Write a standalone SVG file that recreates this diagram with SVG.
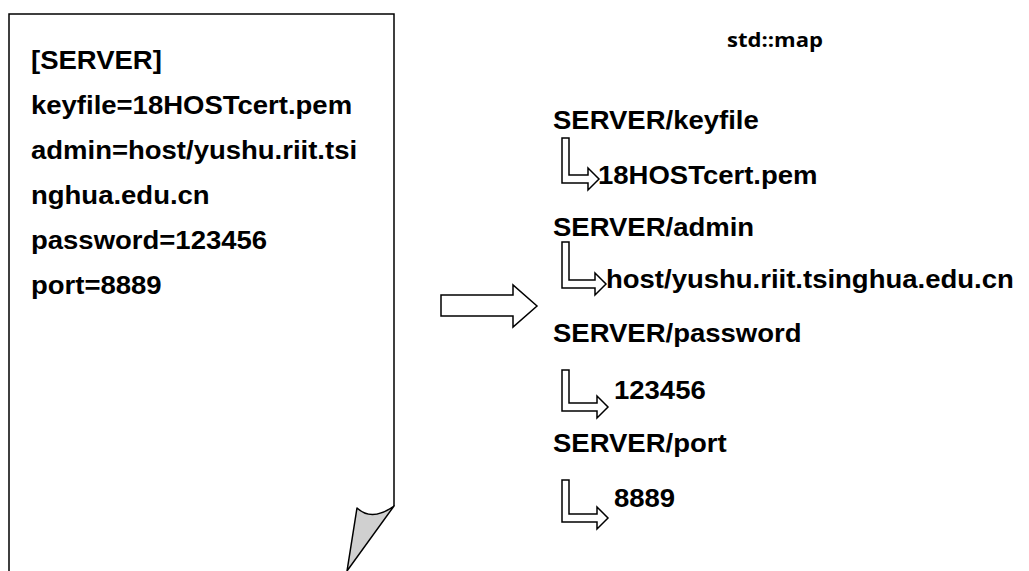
<svg xmlns="http://www.w3.org/2000/svg" width="1029" height="571" viewBox="0 0 1029 571">
  <style>
    .t { font-family: "Liberation Sans", Arial, sans-serif; font-weight: bold; font-size: 25px; fill: #000; }
    .cap { font-family: "Open Sans", "Liberation Sans", sans-serif; font-weight: bold; font-size: 20px; fill: #000; }
    .ln { fill: none; stroke: #000; stroke-width: 1.5; }
    .arr { fill: #fff; stroke: #000; stroke-width: 1.5; stroke-linejoin: miter; }
  </style>

  <!-- config file page with curled corner -->
  <g id="config-file">
    <path class="ln" d="M9,571 L9,14 L394,14 L394,506"/>
    <path d="M357,508 Q372,522 394,506 L347,571 Z" fill="#d0d0d0" stroke="#000" stroke-width="1.5" stroke-linejoin="round"/>
    <text class="t" transform="translate(31,69) scale(1.1,1)">[SERVER]</text>
    <text class="t" transform="translate(31,114) scale(1.1,1)">keyfile=18HOSTcert.pem</text>
    <text class="t" transform="translate(31,159) scale(1.1,1)">admin=host/yushu.riit.tsi</text>
    <text class="t" transform="translate(31,204) scale(1.1,1)">nghua.edu.cn</text>
    <text class="t" transform="translate(31,249) scale(1.1,1)">password=123456</text>
    <text class="t" transform="translate(31,294) scale(1.1,1)">port=8889</text>
  </g>

  <!-- conversion arrow and bent key-to-value arrows -->
  <g id="connectors">
    <path class="arr" d="M441,295 L513,295 L513,285 L537,306 L513,327 L513,316 L441,316 Z"/>
    <path class="arr" d="M562,138 L569,138 L569,175 L588,175 L588,168 L599,179 L588,190 L588,183 L562,183 Z"/>
    <path class="arr" d="M562,242 L569,242 L569,280 L595,280 L595,273 L606,284 L595,295 L595,288 L562,288 Z"/>
    <path class="arr" d="M562,370 L569,370 L569,403 L597,403 L597,396 L608,407 L597,418 L597,411 L562,411 Z"/>
    <path class="arr" d="M562,480 L569,480 L569,514 L597,514 L597,507 L608,518 L597,529 L597,522 L562,522 Z"/>
  </g>

  <!-- std::map entries -->
  <g id="map">
    <text class="cap" x="727" y="47" textLength="96" lengthAdjust="spacingAndGlyphs">std::map</text>
  </g>
  <g id="entry-keyfile">
    <text class="t" transform="translate(553,129) scale(1.1,1)">SERVER/keyfile</text>
    <text class="t" transform="translate(598,184) scale(1.1,1)">18HOSTcert.pem</text>
  </g>
  <g id="entry-admin">
    <text class="t" transform="translate(553,236) scale(1.1,1)">SERVER/admin</text>
    <text class="t" transform="translate(606,288) scale(1.1,1)">host/yushu.riit.tsinghua.edu.cn</text>
  </g>
  <g id="entry-password">
    <text class="t" transform="translate(553,342) scale(1.1,1)">SERVER/password</text>
    <text class="t" transform="translate(614,399) scale(1.1,1)">123456</text>
  </g>
  <g id="entry-port">
    <text class="t" transform="translate(553,452) scale(1.1,1)">SERVER/port</text>
    <text class="t" transform="translate(614,507) scale(1.1,1)">8889</text>
  </g>
</svg>
